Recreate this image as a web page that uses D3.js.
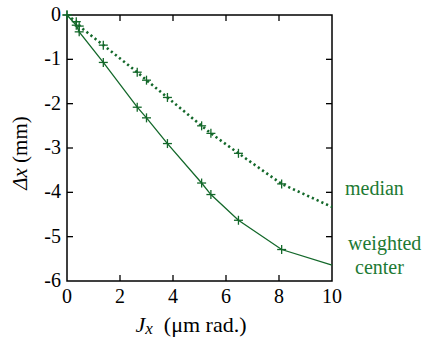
<!DOCTYPE html>
<html>
<head>
<meta charset="utf-8">
<script src="https://cdn.jsdelivr.net/npm/d3@7"></script>
<style>
  body { margin: 0; background: #fff; }
</style>
</head>
<body>
<script>
// J_x (um rad.) sample points; the last one (x = 10) is the line continuing to the frame, no marker
const jx = [0, 0.35, 0.46, 1.37, 2.65, 3.0, 3.79, 5.08, 5.43, 6.47, 8.1, 10];
const median = [0, -0.15, -0.25, -0.68, -1.29, -1.47, -1.86, -2.5, -2.67, -3.12, -3.81, -4.33];
const weighted = [0, -0.23, -0.38, -1.07, -2.08, -2.32, -2.9, -3.79, -4.05, -4.63, -5.29, -5.64];
const xTicks = [0, 2, 4, 6, 8, 10];
const yTicks = [0, -1, -2, -3, -4, -5, -6];

const w = 432;
const h = 341;
const green = '#13682a';
const labelGreen = '#1d7a33';
const serif = "Liberation Serif, DejaVu Serif, serif";

const svg = d3.select('body').append('svg')
  .attr('width', w).attr('height', h)
  .attr('font-family', serif);

const x = d3.scaleLinear().domain([0, 10]).range([67, 332]);
const y = d3.scaleLinear().domain([0, -6]).range([15, 281]);

// frame
svg.append('rect')
  .attr('x', x(0)).attr('y', y(0))
  .attr('width', x(10) - x(0)).attr('height', y(-6) - y(0))
  .attr('fill', 'none').attr('stroke', '#000').attr('stroke-width', 1.5);

// ticks on all four sides, pointing inward
const tl = 6;
const inner = xTicks.slice(1, -1);
svg.selectAll('.tb').data(inner).enter().append('line')
  .attr('x1', d => x(d)).attr('x2', d => x(d))
  .attr('y1', y(-6)).attr('y2', y(-6) - tl)
  .attr('stroke', '#000').attr('stroke-width', 1.3);
svg.selectAll('.tt').data(inner).enter().append('line')
  .attr('x1', d => x(d)).attr('x2', d => x(d))
  .attr('y1', y(0)).attr('y2', y(0) + tl)
  .attr('stroke', '#000').attr('stroke-width', 1.3);
const innerY = yTicks.slice(1, -1);
svg.selectAll('.tl').data(innerY).enter().append('line')
  .attr('x1', x(0)).attr('x2', x(0) + tl)
  .attr('y1', d => y(d)).attr('y2', d => y(d))
  .attr('stroke', '#000').attr('stroke-width', 1.3);
svg.selectAll('.tr').data(innerY).enter().append('line')
  .attr('x1', x(10)).attr('x2', x(10) - tl)
  .attr('y1', d => y(d)).attr('y2', d => y(d))
  .attr('stroke', '#000').attr('stroke-width', 1.3);

// tick labels
svg.selectAll('.xl').data(xTicks).enter().append('text')
  .attr('x', d => x(d)).attr('y', 303)
  .attr('text-anchor', 'middle').attr('font-size', 20)
  .text(d => d);
svg.selectAll('.yl').data(yTicks).enter().append('text')
  .attr('x', 61).attr('y', d => y(d) + 6)
  .attr('text-anchor', 'end').attr('font-size', 20)
  .text(d => d === 0 ? '0' : '-' + Math.abs(d));

// axis titles
const xt = svg.append('text').attr('x', 191).attr('y', 332)
  .attr('text-anchor', 'middle').attr('font-size', 22);
xt.append('tspan').attr('font-style', 'italic').text('J');
xt.append('tspan').attr('font-style', 'italic').attr('font-size', 17).attr('dy', 2).text('x');
xt.append('tspan').attr('dy', -2).text('\u2002(\u03bcm rad.)');

const yt = svg.append('text')
  .attr('transform', 'translate(27,153) rotate(-90)')
  .attr('text-anchor', 'middle').attr('font-size', 21);
yt.append('tspan').attr('font-style', 'italic').text('\u0394x');
yt.append('tspan').text(' (mm)');

const pts = s => jx.map((d, i) => [d, s[i]]);
const line = d3.line().x(d => x(d[0])).y(d => y(d[1]));

svg.append('path').datum(pts(weighted))
  .attr('d', line).attr('fill', 'none')
  .attr('stroke', green).attr('stroke-width', 1.3);
svg.append('path').datum(pts(median))
  .attr('d', line).attr('fill', 'none')
  .attr('stroke', green).attr('stroke-width', 2.6)
  .attr('stroke-dasharray', '2.2,3');

// "+" markers at measured points
const ms = 4.5;
[median, weighted].forEach(s => {
  const g = svg.append('g');
  const p = pts(s).slice(0, -1);
  g.selectAll('.h').data(p).enter().append('line')
    .attr('x1', d => x(d[0]) - ms).attr('x2', d => x(d[0]) + ms)
    .attr('y1', d => y(d[1])).attr('y2', d => y(d[1]))
    .attr('stroke', green).attr('stroke-width', 1.3);
  g.selectAll('.v').data(p).enter().append('line')
    .attr('x1', d => x(d[0])).attr('x2', d => x(d[0]))
    .attr('y1', d => y(d[1]) - ms).attr('y2', d => y(d[1]) + ms)
    .attr('stroke', green).attr('stroke-width', 1.3);
});

// series labels
svg.append('text').attr('x', 345).attr('y', 195)
  .attr('font-size', 20).attr('fill', labelGreen).text('median');
svg.append('text').attr('x', 348).attr('y', 250)
  .attr('font-size', 20).attr('fill', labelGreen).text('weighted');
svg.append('text').attr('x', 355).attr('y', 274)
  .attr('font-size', 20).attr('fill', labelGreen).text('center');
</script>
</body>
</html>
